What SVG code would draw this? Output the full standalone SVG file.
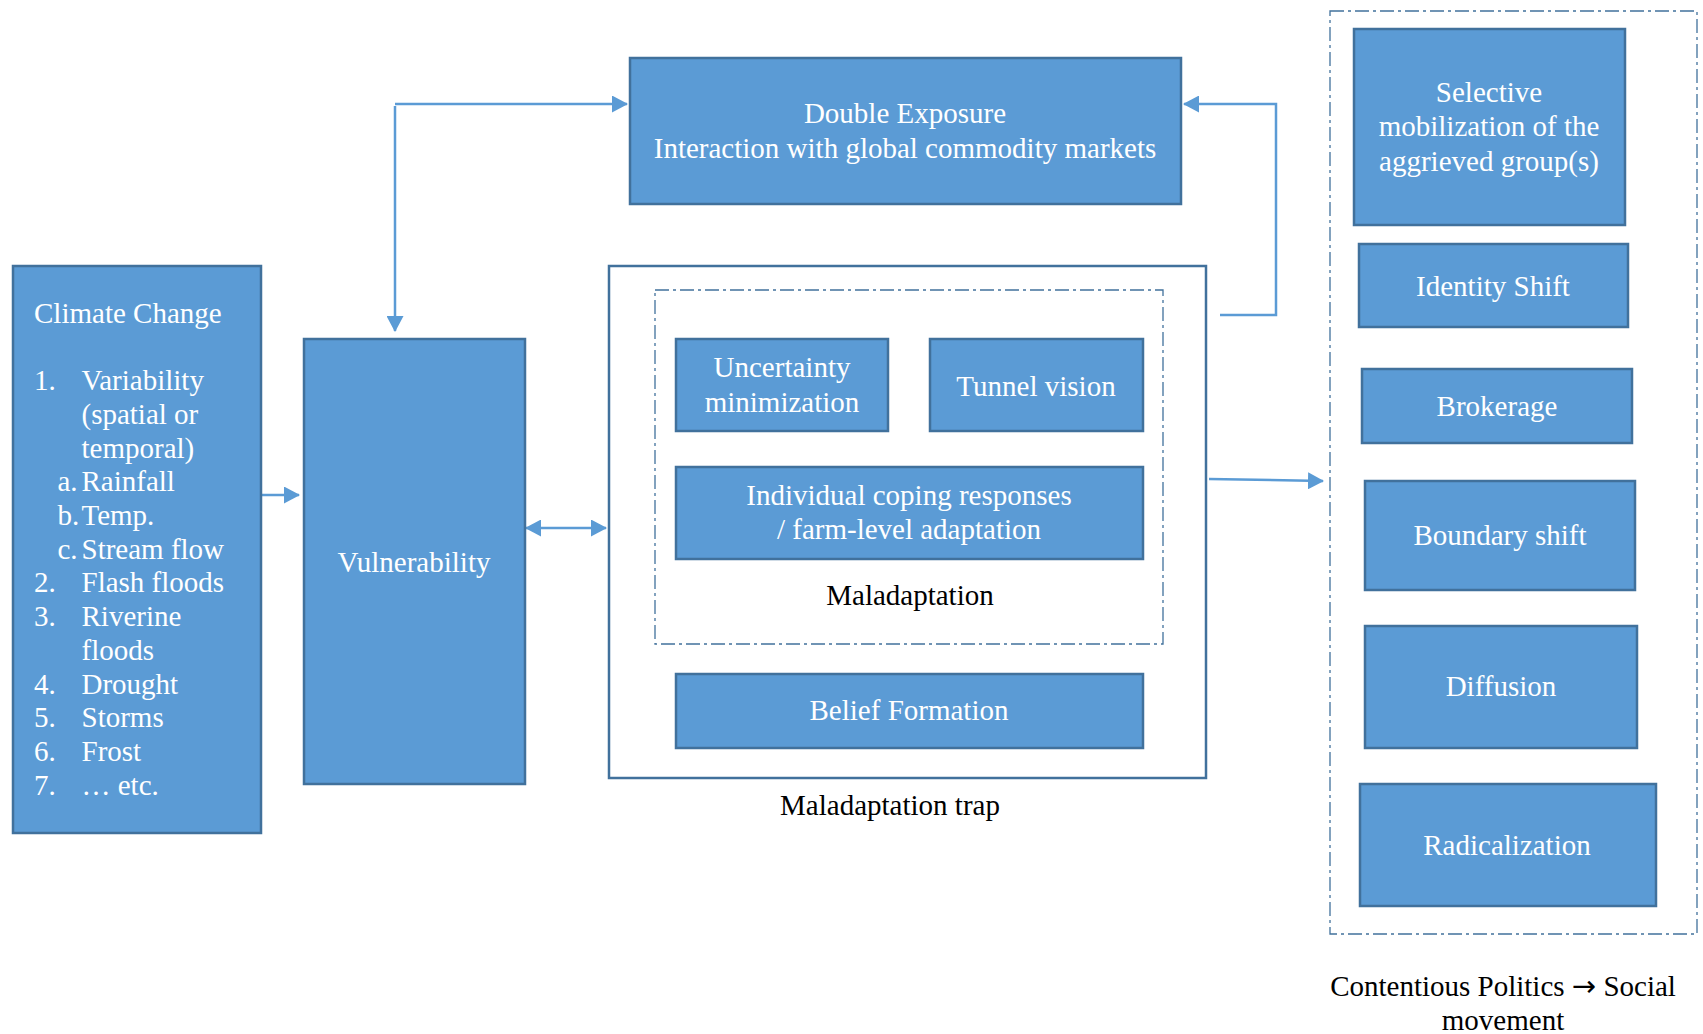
<svg xmlns="http://www.w3.org/2000/svg" width="1703" height="1034" viewBox="0 0 1703 1034">
<style>
.box{fill:#5B9BD5;stroke:#41719C;stroke-width:2.5}
.frame{fill:#fff;stroke:#41719C;stroke-width:2.5}
.dash{fill:none;stroke:#41719C;stroke-width:1.3;stroke-dasharray:14 4 3 4}
.wt{font-family:"Liberation Serif","Times New Roman",serif;font-size:29px;fill:#fff}
.bt{font-family:"Liberation Serif","Times New Roman",serif;font-size:29px;fill:#000}
.c{text-anchor:middle}
.conn{fill:none;stroke:#5B9BD5;stroke-width:2.5}
.arr{font-family:"DejaVu Sans",sans-serif}
</style>
<defs>
<marker id="ah" viewBox="0 0 16 17" refX="15" refY="8.5" markerWidth="16" markerHeight="17" orient="auto-start-reverse" markerUnits="userSpaceOnUse">
<path d="M0,0 L16,8.5 L0,17 z" fill="#5B9BD5"/>
</marker>
</defs>

<g id="connectors">
<path class="conn" d="M395,106 L395,331" marker-end="url(#ah)"/>
<path class="conn" d="M395,104 L627,104" marker-end="url(#ah)"/>
<path class="conn" d="M1220,315 L1276,315 L1276,104 L1184,104" marker-end="url(#ah)"/>
<path class="conn" d="M261,495 L299,495" marker-end="url(#ah)"/>
<path class="conn" d="M526,528 L606,528" marker-start="url(#ah)" marker-end="url(#ah)"/>
<path class="conn" d="M1209,479 L1323,481" marker-end="url(#ah)"/>
</g>

<g id="climate-change">
<rect class="box" x="13" y="266" width="248" height="567"/>
<text class="wt" x="34" y="323">Climate Change</text>
<text class="wt" x="34" y="390">1.</text><text class="wt" x="81.5" y="390">Variability</text>
<text class="wt" x="81.5" y="424">(spatial or</text>
<text class="wt" x="81.5" y="458">temporal)</text>
<text class="wt" x="57.5" y="491">a.</text><text class="wt" x="81.5" y="491">Rainfall</text>
<text class="wt" x="57.5" y="525">b.</text><text class="wt" x="81.5" y="525">Temp.</text>
<text class="wt" x="57.5" y="559">c.</text><text class="wt" x="81.5" y="559">Stream flow</text>
<text class="wt" x="34" y="592">2.</text><text class="wt" x="81.5" y="592">Flash floods</text>
<text class="wt" x="34" y="626">3.</text><text class="wt" x="81.5" y="626">Riverine</text>
<text class="wt" x="81.5" y="660">floods</text>
<text class="wt" x="34" y="694">4.</text><text class="wt" x="81.5" y="694">Drought</text>
<text class="wt" x="34" y="727">5.</text><text class="wt" x="81.5" y="727">Storms</text>
<text class="wt" x="34" y="761">6.</text><text class="wt" x="81.5" y="761">Frost</text>
<text class="wt" x="34" y="795">7.</text><text class="wt" x="81.5" y="795">… etc.</text>
</g>

<g id="vulnerability">
<rect class="box" x="304" y="339" width="221" height="445"/>
<text class="wt c" x="414" y="572">Vulnerability</text>
</g>

<g id="double-exposure">
<rect class="box" x="630" y="58" width="551" height="146"/>
<text class="wt c" x="905" y="123">Double Exposure</text>
<text class="wt c" x="905" y="158">Interaction with global commodity markets</text>
</g>

<g id="maladaptation-trap">
<rect class="frame" x="609" y="266" width="597" height="512"/>
<text class="bt c" x="890" y="815">Maladaptation trap</text>
</g>

<g id="maladaptation">
<rect class="dash" x="655" y="290" width="508" height="354"/>
<text class="bt c" x="910" y="605">Maladaptation</text>
</g>

<g id="uncertainty-minimization">
<rect class="box" x="676" y="339" width="212" height="92"/>
<text class="wt c" x="782" y="377">Uncertainty</text>
<text class="wt c" x="782" y="412">minimization</text>
</g>

<g id="tunnel-vision">
<rect class="box" x="930" y="339" width="213" height="92"/>
<text class="wt c" x="1036" y="396">Tunnel vision</text>
</g>

<g id="individual-coping">
<rect class="box" x="676" y="467" width="467" height="92"/>
<text class="wt c" x="909" y="505">Individual coping responses</text>
<text class="wt c" x="909" y="539">/ farm-level adaptation</text>
</g>

<g id="belief-formation">
<rect class="box" x="676" y="674" width="467" height="74"/>
<text class="wt c" x="909" y="720">Belief Formation</text>
</g>

<g id="contentious-politics">
<rect class="dash" x="1330" y="11" width="367" height="923"/>
<text class="bt c" x="1503" y="996">Contentious Politics <tspan class="arr">→</tspan> Social</text>
<text class="bt c" x="1503" y="1030">movement</text>
</g>

<g id="selective-mobilization">
<rect class="box" x="1354" y="29" width="271" height="196"/>
<text class="wt c" x="1489" y="102">Selective</text>
<text class="wt c" x="1489" y="136">mobilization of the</text>
<text class="wt c" x="1489" y="171">aggrieved group(s)</text>
</g>

<g id="identity-shift">
<rect class="box" x="1359" y="244" width="269" height="83"/>
<text class="wt c" x="1493" y="296">Identity Shift</text>
</g>

<g id="brokerage">
<rect class="box" x="1362" y="369" width="270" height="74"/>
<text class="wt c" x="1497" y="416">Brokerage</text>
</g>

<g id="boundary-shift">
<rect class="box" x="1365" y="481" width="270" height="109"/>
<text class="wt c" x="1500" y="545">Boundary shift</text>
</g>

<g id="diffusion">
<rect class="box" x="1365" y="626" width="272" height="122"/>
<text class="wt c" x="1501" y="696">Diffusion</text>
</g>

<g id="radicalization">
<rect class="box" x="1360" y="784" width="296" height="122"/>
<text class="wt c" x="1507" y="855">Radicalization</text>
</g>
</svg>
